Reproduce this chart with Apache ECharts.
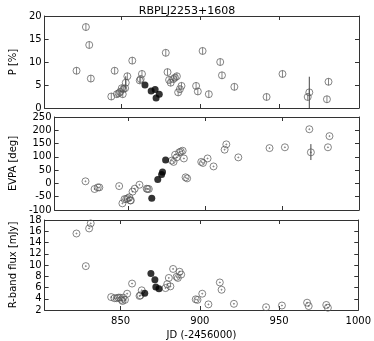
<!DOCTYPE html>
<html><head><meta charset="utf-8">
<script src="https://cdn.jsdelivr.net/npm/echarts@6/dist/echarts.min.js"></script>
<style>html,body{margin:0;padding:0;background:#fff}#c{width:374px;height:341px}</style>
</head><body><div id="c"></div>
<script>
// ---- data ----
const jdP   = [822.1,828.0,830.1,831.1,844.0,846.1,847.5,848.6,849.6,850.6,851.2,851.6,852.7,853.1,854.1,857.2,861.9,862.5,863.3,878.3,879.4,880.4,881.4,883.1,884.1,885.3,886.1,887.2,888.2,897.4,898.5,901.5,905.4,912.6,913.7,921.5,941.8,951.8,967.7,968.7,979.8,980.8];
const pol   = [8.1,17.6,13.7,6.4,2.5,8.1,3.0,3.2,3.5,4.3,3.0,4.1,4.3,5.5,6.9,10.3,6.0,6.3,7.4,12.0,7.8,6.1,5.5,6.3,6.6,6.9,3.4,4.1,4.8,4.8,3.6,12.4,3.0,10.0,7.1,4.6,2.4,7.4,2.4,3.4,1.9,5.7];
const jdE   = [822.1,828.0,830.1,831.1,844.0,846.1,847.5,848.6,849.6,850.6,851.2,851.6,852.7,854.1,857.2,861.9,862.5,863.3,878.3,879.4,880.4,881.4,883.1,884.1,885.3,886.1,887.2,888.2,897.4,898.5,901.5,905.4,912.6,913.7,921.5,941.8,951.8,967.7,968.7,979.8,980.8];
const evpa  = [8,-21,-15,-15,-10,-75,-59,-59,-56,-52,-64,-64,-31,-20,-5,-20,-21,-21,86,81,108,98,117,120,123,94,23,19,81,77,94,64,127,147,98,133,136,204,117,136,178];
const jdF   = [822.1,828.0,830.1,831.1,844.0,846.1,847.5,848.6,849.6,850.6,851.2,851.6,852.7,854.1,857.2,861.9,862.5,863.3,878.3,879.4,880.4,881.4,883.1,885.3,886.1,887.2,888.2,897.4,898.5,901.5,905.4,912.6,913.7,921.5,941.8,951.8,967.7,968.7,979.8,980.8];
const flux  = [15.6,9.8,16.5,17.4,4.3,4.1,4.1,4.2,4.2,3.8,3.6,4.2,3.8,4.9,6.7,4.5,4.6,5.5,5.9,6.6,7.7,6.2,9.3,7.9,7.7,8.8,8.3,3.9,3.8,4.9,3.0,6.9,5.6,3.1,2.5,2.8,3.3,2.7,2.9,2.4];
// highlighted (filled) epochs
const jdHi   = [865.2,869.1,871.6,872.2,874.2];
const polHi  = [5.0,3.7,4.0,2.2,3.0];
const evpaHi = [-56,15,34,43,88];
const fluxHi = [5.0,8.5,7.4,6.1,5.8];
// large error bars [jd, low, high]
const errP    = [[853.1,4.2,6.9],[968.7,0,6.8]];
const errE    = [[968.7,88,148]];
// axes
const xTicks = [850,900,950,1000];
const xMin = 802, xMax = 1000;
const yP = {min:0,max:20,interval:5};
const yE = {min:-100,max:250,interval:50};
const yF = {min:2,max:18,interval:2};
const titleText = 'RBPLJ2253+1608';
const yNames = ['P [%]','EVPA [deg]','R-band flux [mJy]'];
const xName = 'JD (-2456000)';

const zip = (a,b)=>a.map((v,i)=>[v,b[i]]);
const font = 'DejaVu Sans';
const axCol = '#333';
const grids = [
  {left:36,right:15,top:16,height:92},
  {left:36,right:15,top:117,height:93},
  {left:36,right:15,top:220,height:94}
];
const xAxes=[], yAxes=[];
const yDefs=[yP,yE,yF];
grids.forEach((g,i)=>{
  const last = i===2;
  xAxes.push({gridIndex:i,type:'value',min:xMin,max:xMax,position:'bottom',
    axisLine:{onZero:false,lineStyle:{color:axCol,width:1}},
    axisTick:{inside:true,length:4,customValues:xTicks,lineStyle:{color:axCol}},
    axisLabel:{show:last,customValues:xTicks,formatter:v=>String(v),color:'#000',fontFamily:font,fontSize:10,margin:6},
    splitLine:{show:false},
    name:last?xName:'',nameLocation:'middle',nameGap:20,nameTextStyle:{color:'#000',fontFamily:font,fontSize:10}});
  xAxes.push({gridIndex:i,type:'value',min:xMin,max:xMax,position:'top',
    axisLine:{onZero:false,lineStyle:{color:axCol,width:1}},
    axisTick:{inside:true,length:4,customValues:xTicks,lineStyle:{color:axCol}},
    axisLabel:{show:false},splitLine:{show:false}});
  const d=yDefs[i];
  yAxes.push({gridIndex:i,type:'value',min:d.min,max:d.max,interval:d.interval,position:'left',
    axisLine:{show:true,onZero:false,lineStyle:{color:axCol,width:1}},
    axisTick:{show:true,inside:true,length:4,lineStyle:{color:axCol}},
    axisLabel:{color:'#000',fontFamily:font,fontSize:10,margin:3},
    splitLine:{show:false},
    name:yNames[i],nameLocation:'middle',nameGap:i===1?25:20,nameRotate:90,
    nameTextStyle:{color:'#000',fontFamily:font,fontSize:10}});
  yAxes.push({gridIndex:i,type:'value',min:d.min,max:d.max,interval:d.interval,position:'right',
    axisLine:{show:true,onZero:false,lineStyle:{color:axCol,width:1}},
    axisTick:{show:true,inside:true,length:4,lineStyle:{color:axCol}},
    axisLabel:{show:false},splitLine:{show:false}});
});
const symBar = 'path://M0,-10A10,10 0 1,1 0,10A10,10 0 1,1 0,-10ZM0,-10L0,10';
const symDot = 'path://M0,-10A10,10 0 1,1 0,10A10,10 0 1,1 0,-10ZM0,-1.5A1.5,1.5 0 1,1 0,1.5A1.5,1.5 0 1,1 0,-1.5Z';
function openSeries(i,data,sym){
  return {type:'scatter',xAxisIndex:2*i,yAxisIndex:2*i,data:data,symbol:sym,symbolSize:7,
    itemStyle:{color:'rgba(0,0,0,0)',borderColor:'#555',borderWidth:0.9},silent:true,z:3};
}
function fillSeries(i,data){
  return {type:'scatter',xAxisIndex:2*i,yAxisIndex:2*i,data:data,symbol:'circle',symbolSize:7,
    itemStyle:{color:'#000'},silent:true,z:4};
}
function errSeries(i,data){
  return {type:'custom',xAxisIndex:2*i,yAxisIndex:2*i,data:data,silent:true,z:2,
    renderItem:(p,api)=>{
      const a=api.coord([api.value(0),api.value(1)]), b=api.coord([api.value(0),api.value(2)]);
      return {type:'line',shape:{x1:a[0],y1:a[1],x2:b[0],y2:b[1]},style:{stroke:'#444',lineWidth:1}};
    }};
}
const option = {
  animation:false,
  title:{text:titleText,left:'center',top:1,textStyle:{fontFamily:font,fontSize:11,fontWeight:'normal',color:'#000'}},
  grid:grids,xAxis:xAxes,yAxis:yAxes,
  series:[
    errSeries(0,errP),
    openSeries(0,zip(jdP,pol),symBar),
    fillSeries(0,zip(jdHi,polHi)),
    errSeries(1,errE),
    openSeries(1,zip(jdE,evpa),symDot),
    fillSeries(1,zip(jdHi,evpaHi)),
    openSeries(2,zip(jdF,flux),symDot),
    fillSeries(2,zip(jdHi,fluxHi))
  ]
};
echarts.init(document.getElementById('c'),null,{renderer:'canvas'}).setOption(option);
</script></body></html>
